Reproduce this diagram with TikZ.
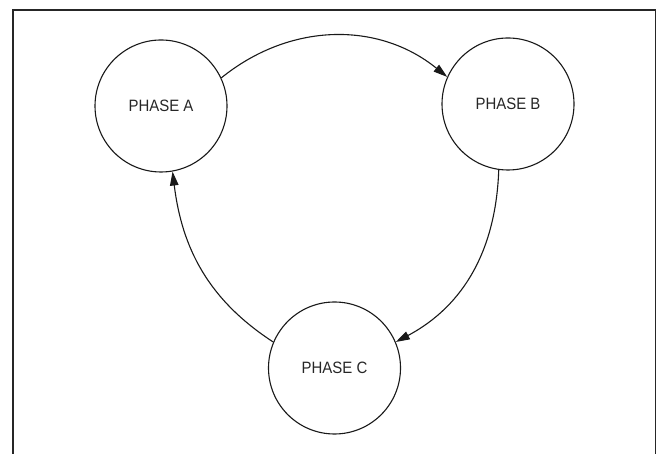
\documentclass[tikz,border=0pt]{standalone}
\usepackage{fontspec}
\setmainfont{Liberation Sans}[FakeStretch=0.91]
\usepackage{tikz}
\usetikzlibrary{arrows.meta}

\begin{document}
\begin{tikzpicture}[
    x=1bp, y=1bp,
    font=\fontsize{16.5}{19}\selectfont,
    % --- outer frame (open at the bottom) ---
    frame/.style={draw=black!85, line width=1.7bp},
    % --- one phase of the cycle ---
    phase/.style={circle, draw=black!90, line width=1.1bp, minimum size=132bp,
                  inner sep=0pt, align=center, text=black!85},
    % --- transition between phases ---
    flow/.style={-{Triangle[length=14bp,width=8.5bp]}, black!90, line width=1.1bp},
  ]

  \useasboundingbox (0,0) rectangle (657,454);

  % ---- FRAME --------------------------------------------------------------
  \draw[frame] (13,0) |- (655.5,444) -- (655.5,0);

  % ---- PHASES -------------------------------------------------------------
  \node[phase] (phaseA) at (161,348) {PHASE A};
  \node[phase] (phaseB) at (508,350) {PHASE B};
  \node[phase] (phaseC) at (334.5,86) {PHASE C};

  % ---- TRANSITIONS ----------------------------------------------------------
  \draw[flow] (phaseA.25) to[out=39,in=141] (phaseB.156);
  \draw[flow] (phaseB.262) to[out=-92,in=28] (phaseC.23);
  \draw[flow] (phaseC.157) to[out=147,in=-83] (phaseA.280);

\end{tikzpicture}
\end{document}
